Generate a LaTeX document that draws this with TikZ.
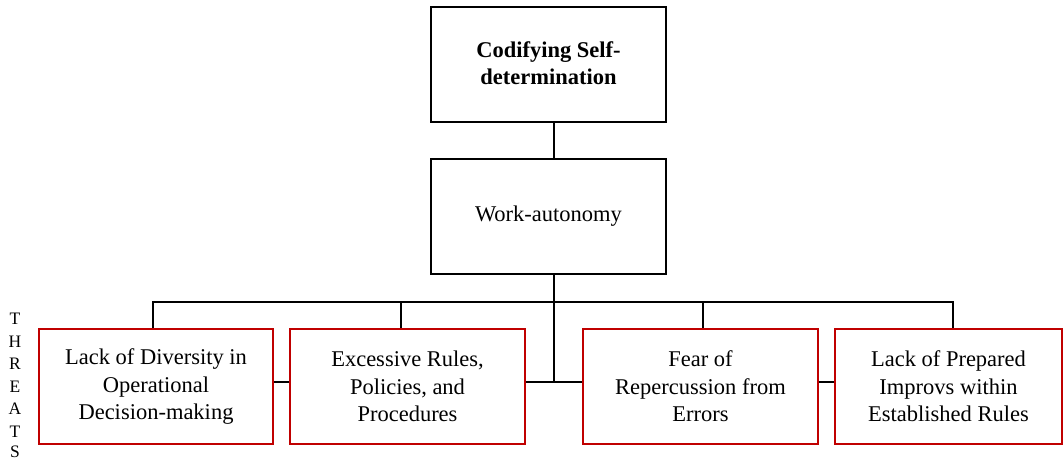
\documentclass[tikz,border=0pt]{standalone}
\usepackage{fontspec}
\setmainfont{Liberation Serif}
\begin{document}
\begin{tikzpicture}[x=1pt,y=-1pt,
  mainbox/.style={draw=black,line width=1.6pt,rectangle,minimum width=235pt,minimum height=115pt,align=center,inner sep=0pt,font=\fontsize{22.5}{27.5}\selectfont},
  threatbox/.style={draw=threatred,line width=1.8pt,rectangle,minimum height=115pt,align=center,inner sep=0pt,font=\fontsize{22.5}{27.5}\selectfont},
  conn/.style={draw=black,line width=1.6pt},
  letter/.style={font=\fontsize{17.5}{19}\selectfont,inner sep=0pt,anchor=center}]
\definecolor{threatred}{RGB}{192,0,0}
\useasboundingbox (0,0) rectangle (1064,461);
\node[mainbox] (top) at (548.5,64.5) {\raisebox{3pt}{\bfseries Codifying Self-}\\\raisebox{3pt}{\bfseries determination}};
\node[mainbox] (work) at (548.5,216.5) {\raisebox{3pt}{Work-autonomy}};
\node[threatbox,minimum width=234pt] (b1) at (156,386.5) {Lack of Diversity in\\Operational\\Decision-making};
\node[threatbox,minimum width=235pt] (b2) at (407.5,386.5) {Excessive Rules,\\Policies, and\\Procedures};
\node[threatbox,minimum width=235pt] (b3) at (700.5,386.5) {Fear of\\Repercussion from\\Errors};
\node[threatbox,minimum width=227pt] (b4) at (948.5,386.5) {Lack of Prepared\\Improvs within\\Established Rules};
\coordinate (vx) at (554,0);
\coordinate (busy) at (0,302);
\coordinate (midy) at (0,382);
\coordinate (d1) at (153,0);
\coordinate (d2) at (401,0);
\coordinate (d3) at (703,0);
\coordinate (d4) at (953,0);
\draw[conn] (top.south -| vx) -- (work.north -| vx);
\draw[conn] (work.south -| vx) -- (vx |- midy);
\draw[conn] (b1.north -| d1) -- (d1 |- busy) -- (d4 |- busy) -- (b4.north -| d4);
\draw[conn] (d2 |- busy) -- (b2.north -| d2);
\draw[conn] (d3 |- busy) -- (b3.north -| d3);
\draw[conn] (b1.east |- midy) -- (b2.west |- midy);
\draw[conn] (b2.east |- midy) -- (b3.west |- midy);
\draw[conn] (b3.east |- midy) -- (b4.west |- midy);
\node[letter] (t1) at (15,319) {T};
\node[letter] (t2) at (15,341.5) {H};
\node[letter] (t3) at (15,364) {R};
\node[letter] (t4) at (15,386.5) {E};
\node[letter] (t5) at (15,409) {A};
\node[letter] (t6) at (15,431.5) {T};
\node[letter] (t7) at (15,452) {S};
\end{tikzpicture}
\end{document}
